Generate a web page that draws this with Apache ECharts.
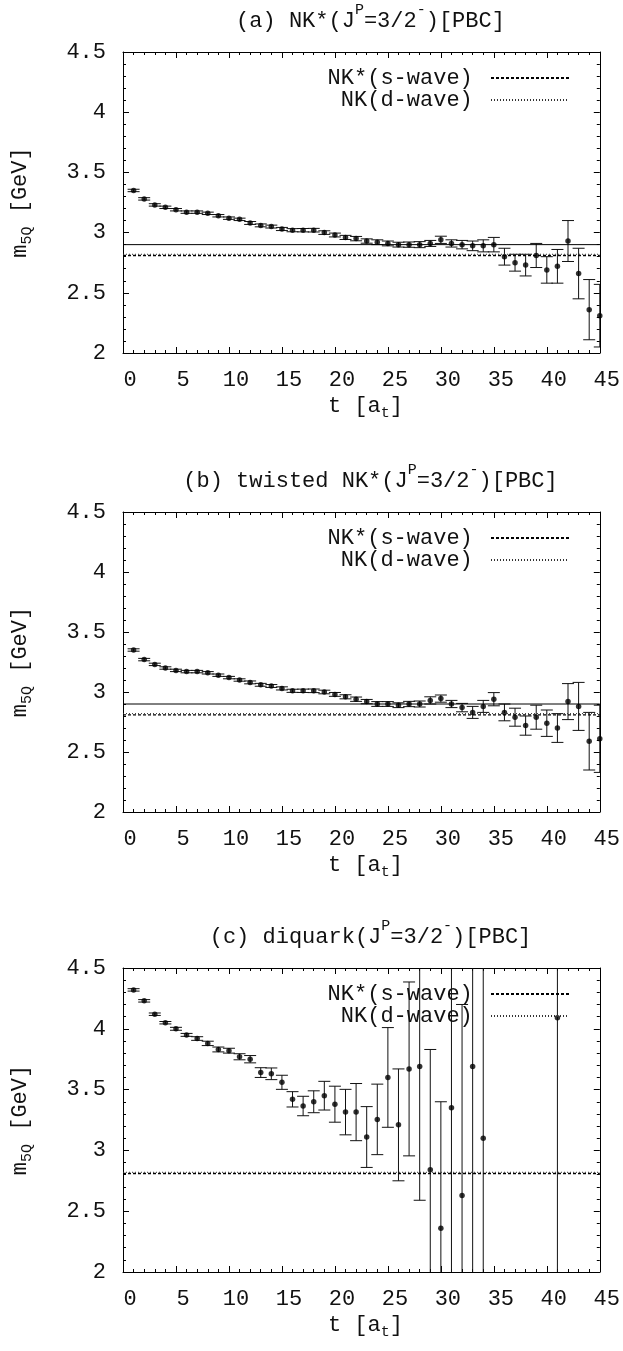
<!DOCTYPE html>
<html><head><meta charset="utf-8">
<script src="https://cdn.jsdelivr.net/npm/echarts@6/dist/echarts.min.js"></script>
<style>html,body{margin:0;padding:0;background:#fff}#c{width:623px;height:1351px}</style>
</head><body><div id="c"></div>
<script>
// ---------- data ----------
const tValues = [1,2,3,4,5,6,7,8,9,10,11,12,13,14,15,16,17,18,19,20,21,22,23,24,25,26,27,28,29,30,31,32,33,34,35,36,37,38,39,40,41,42,43,44,45];

const massA = [3.35,3.28,3.23,3.21,3.19,3.17,3.17,3.16,3.14,3.12,3.11,3.08,3.06,3.05,3.03,3.02,3.02,3.02,3.00,2.98,2.96,2.95,2.93,2.92,2.91,2.90,2.90,2.90,2.91,2.94,2.91,2.90,2.89,2.89,2.90,2.80,2.75,2.73,2.81,2.69,2.72,2.93,2.66,2.36,2.31];
const errA  = [0.01,0.01,0.01,0.01,0.01,0.01,0.01,0.01,0.01,0.01,0.01,0.012,0.012,0.012,0.013,0.013,0.014,0.015,0.015,0.016,0.017,0.018,0.018,0.02,0.02,0.02,0.022,0.025,0.025,0.03,0.03,0.035,0.04,0.05,0.06,0.07,0.07,0.09,0.10,0.11,0.14,0.17,0.21,0.25,0.26];

const massB = [3.35,3.27,3.23,3.20,3.18,3.17,3.17,3.16,3.14,3.12,3.10,3.08,3.06,3.05,3.03,3.01,3.01,3.01,3.00,2.98,2.96,2.94,2.92,2.90,2.90,2.89,2.90,2.90,2.93,2.945,2.90,2.87,2.83,2.88,2.94,2.83,2.79,2.72,2.79,2.74,2.70,2.92,2.88,2.59,2.61];
const errB  = [0.01,0.01,0.01,0.01,0.01,0.01,0.01,0.01,0.01,0.01,0.01,0.012,0.012,0.012,0.013,0.013,0.014,0.015,0.015,0.016,0.017,0.018,0.018,0.02,0.02,0.02,0.022,0.025,0.03,0.03,0.03,0.035,0.05,0.05,0.055,0.07,0.075,0.08,0.10,0.11,0.12,0.15,0.20,0.24,0.28];

const massC = [4.32,4.23,4.12,4.05,4.00,3.95,3.92,3.88,3.83,3.82,3.77,3.75,3.64,3.63,3.56,3.42,3.365,3.40,3.45,3.38,3.315,3.315,3.11,3.255,3.60,3.21,3.67,3.69,2.84,2.36,3.35,2.63,3.69,3.10,null,null,null,null,null,null,4.09,null,null,null,null];
const errC  = [0.01,0.01,0.01,0.01,0.012,0.012,0.015,0.018,0.02,0.02,0.025,0.03,0.04,0.048,0.058,0.063,0.08,0.09,0.118,0.148,0.187,0.235,0.25,0.29,0.41,0.46,0.715,1.1,0.99,1.04,1.6,1.57,1.9,1.6,null,null,null,null,null,null,2.5,null,null,null,null];

const sWaveLevel = 2.81;   // NK*(s-wave)
const dWaveLevel = 2.82;   // NK(d-wave)
const fitLevels = [2.90, 2.90, null];  // solid plateau line per panel

const titles = [
  '(a) NK*(J{sup|P}=3/2{sup|-})[PBC]',
  '(b) twisted NK*(J{sup|P}=3/2{sup|-})[PBC]',
  '(c) diquark(J{sup|P}=3/2{sup|-})[PBC]'
];
const legendNames = ['NK*(s-wave)', 'NK(d-wave)'];
const xMin = 0, xMax = 45, xStep = 5;
const yMin = 2, yMax = 4.5, yStep = 0.5;

// ---------- layout ----------
const FONT = 'Liberation Mono';
const TXT = '#111';
const gridTops = [52, 512, 968];
const gridHeights = [301, 300, 304];
const gridLeft = 123, gridWidth = 477;
const panels = [[massA, errA], [massB, errB], [massC, errC]];

const option = { animation: false, backgroundColor: '#fff',
  grid: [], xAxis: [], yAxis: [], series: [], title: [], legend: [] };

const tickStyle = { lineStyle: { color: '#000', width: 1 } };
const subRich = { fontFamily: FONT, fontSize: 15, color: TXT, padding: [14, 0, 0, 0] };

gridTops.forEach((top, p) => {
  option.grid.push({ left: gridLeft, top: top, width: gridWidth, height: gridHeights[p] });
  const baseX = { type: 'value', gridIndex: p, min: xMin, max: xMax, interval: xStep,
    axisLine: { show: true, onZero: false, lineStyle: { color: '#000', width: 1 } },
    axisTick: { show: true, inside: true, length: 6, ...tickStyle },
    minorTick: { show: true, splitNumber: 5, length: 3, ...tickStyle },
    splitLine: { show: false } };
  option.xAxis.push({ ...baseX, position: 'bottom',
    axisLabel: { show: true, fontFamily: FONT, fontSize: 22, color: TXT, margin: 16, padding: [0, 0, 0, 14] },
    name: 't [a{sub|t}]', nameLocation: 'middle', nameGap: 39,
    nameTextStyle: { fontFamily: FONT, fontSize: 22, color: TXT, padding: [0, 0, 0, 8], rich: { sub: subRich } } });
  option.xAxis.push({ ...baseX, position: 'top', axisLabel: { show: false } });
  const baseY = { type: 'value', gridIndex: p, min: yMin, max: yMax, interval: yStep,
    axisLine: { show: true, onZero: false, lineStyle: { color: '#000', width: 1 } },
    axisTick: { show: true, inside: true, length: 6, ...tickStyle },
    minorTick: { show: true, splitNumber: 5, length: 3, ...tickStyle },
    splitLine: { show: false } };
  option.yAxis.push({ ...baseY, position: 'left',
    axisLabel: { show: true, fontFamily: FONT, fontSize: 22, color: TXT, margin: 17 },
    name: 'm{sub|5Q} [GeV]', nameLocation: 'middle', nameGap: 88, nameRotate: 90,
    nameTextStyle: { fontFamily: FONT, fontSize: 22, color: TXT, rich: { sub: subRich } } });
  option.yAxis.push({ ...baseY, position: 'right', axisLabel: { show: false } });

  option.title.push({ text: titles[p], left: gridLeft + gridWidth / 2 + 4, top: top - 54, textAlign: 'center',
    textStyle: { fontFamily: FONT, fontSize: 22, fontWeight: 'normal', color: TXT,
      rich: { sup: { fontFamily: FONT, fontSize: 15, color: TXT, padding: [0, 0, 22, 0] } } } });

  option.legend.push({ orient: 'vertical', align: 'right', right: 53, top: top + 15, padding: 0,
    itemWidth: 78, itemHeight: 10, itemGap: 0, selectedMode: false, data: legendNames,
    itemStyle: { opacity: 0, borderWidth: 0 },
    formatter: n => n + ' ',
    textStyle: { fontFamily: FONT, fontSize: 22, lineHeight: 18, color: TXT } });

  const xi = p * 2, yi = p * 2;
  // horizontal reference lines
  if (fitLevels[p] != null) {
    option.series.push({ type: 'line', name: 'fit', xAxisIndex: xi, yAxisIndex: yi, symbol: 'none', silent: true,
      data: [[xMin, fitLevels[p]], [xMax, fitLevels[p]]], itemStyle: { color: '#000' },
      lineStyle: { color: '#000', width: 1, type: 'solid' } });
  }
  option.series.push({ type: 'line', name: legendNames[0], xAxisIndex: xi, yAxisIndex: yi, symbol: 'none', silent: true,
    data: [[xMin, sWaveLevel], [xMax, sWaveLevel]], itemStyle: { color: '#000' },
    lineStyle: { color: '#000', width: 1.3, type: [3, 2] } });
  option.series.push({ type: 'line', name: legendNames[1], xAxisIndex: xi, yAxisIndex: yi, symbol: 'none', silent: true,
    data: [[xMin, dWaveLevel], [xMax, dWaveLevel]], itemStyle: { color: '#333' },
    lineStyle: { color: '#333', width: 1, type: [1, 2] } });

  const [vals, errs] = panels[p];
  const pts = [];
  tValues.forEach((t, i) => { if (vals[i] != null) pts.push([t, vals[i], errs[i]]); });
  option.series.push({ type: 'custom', name: 'err' + p, xAxisIndex: xi, yAxisIndex: yi, clip: true, silent: true,
    data: pts,
    renderItem: (params, api) => {
      const t = api.value(0), v = api.value(1), e = api.value(2);
      const lo = Math.max(v - e, yMin), hi = Math.min(v + e, yMax);
      const a = api.coord([t, lo]), b = api.coord([t, hi]);
      const st = { stroke: '#111', lineWidth: 1 };
      const ch = [{ type: 'line', shape: { x1: a[0], y1: a[1], x2: b[0], y2: b[1] }, style: st }];
      if (v - e >= yMin) ch.push({ type: 'line', shape: { x1: a[0] - 6, y1: a[1], x2: a[0] + 6, y2: a[1] }, style: st });
      if (v + e <= yMax) ch.push({ type: 'line', shape: { x1: b[0] - 6, y1: b[1], x2: b[0] + 6, y2: b[1] }, style: st });
      return { type: 'group', children: ch };
    } });
  option.series.push({ type: 'scatter', name: 'pts' + p, xAxisIndex: xi, yAxisIndex: yi, silent: true,
    symbol: 'circle', symbolSize: 5.5, itemStyle: { color: '#000' },
    data: pts.map(d => [d[0], d[1]]) });
});

const chart = echarts.init(document.getElementById('c'), null, { renderer: 'canvas' });
chart.setOption(option);
</script></body></html>
